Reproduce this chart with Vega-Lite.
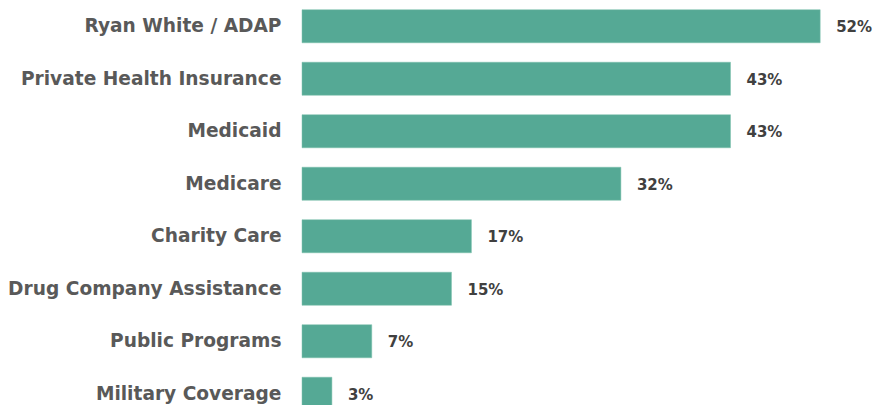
{
  "$schema": "https://vega.github.io/schema/vega-lite/v6.json",
  "autosize": "none",
  "padding": {"left": 302, "top": 0, "right": 0, "bottom": 0},
  "width": 571,
  "height": 420,
  "background": "white",
  "config": {"view": {"stroke": null}},
  "data": {"values": [
    {"source": "Ryan White / ADAP", "pct": 0.52},
    {"source": "Private Health Insurance", "pct": 0.43},
    {"source": "Medicaid", "pct": 0.43},
    {"source": "Medicare", "pct": 0.32},
    {"source": "Charity Care", "pct": 0.17},
    {"source": "Drug Company Assistance", "pct": 0.15},
    {"source": "Public Programs", "pct": 0.07},
    {"source": "Military Coverage", "pct": 0.03}
  ]},
  "encoding": {
    "y": {"field": "source", "type": "nominal", "sort": null,
      "scale": {"paddingInner": 0.37, "paddingOuter": 0.185},
      "axis": {"title": null, "ticks": false, "domain": false, "labelPadding": 21,
        "labelFont": "DejaVu Sans", "labelFontWeight": "bold", "labelFontSize": 18.6,
        "labelColor": "#595959", "labelLimit": 400}},
    "x": {"field": "pct", "type": "quantitative", "scale": {"domain": [0, 0.573]}, "axis": null}
  },
  "layer": [
    {"mark": {"type": "bar", "color": "#55A995", "stroke": "#7cc0ad", "strokeWidth": 0.5}},
    {"mark": {"type": "text", "align": "left", "dx": 16, "dy": 1, "font": "DejaVu Sans", "fontWeight": "bold", "fontSize": 15, "color": "#404040"},
      "encoding": {"text": {"field": "pct", "type": "quantitative", "format": ".0%"}}}
  ]
}
